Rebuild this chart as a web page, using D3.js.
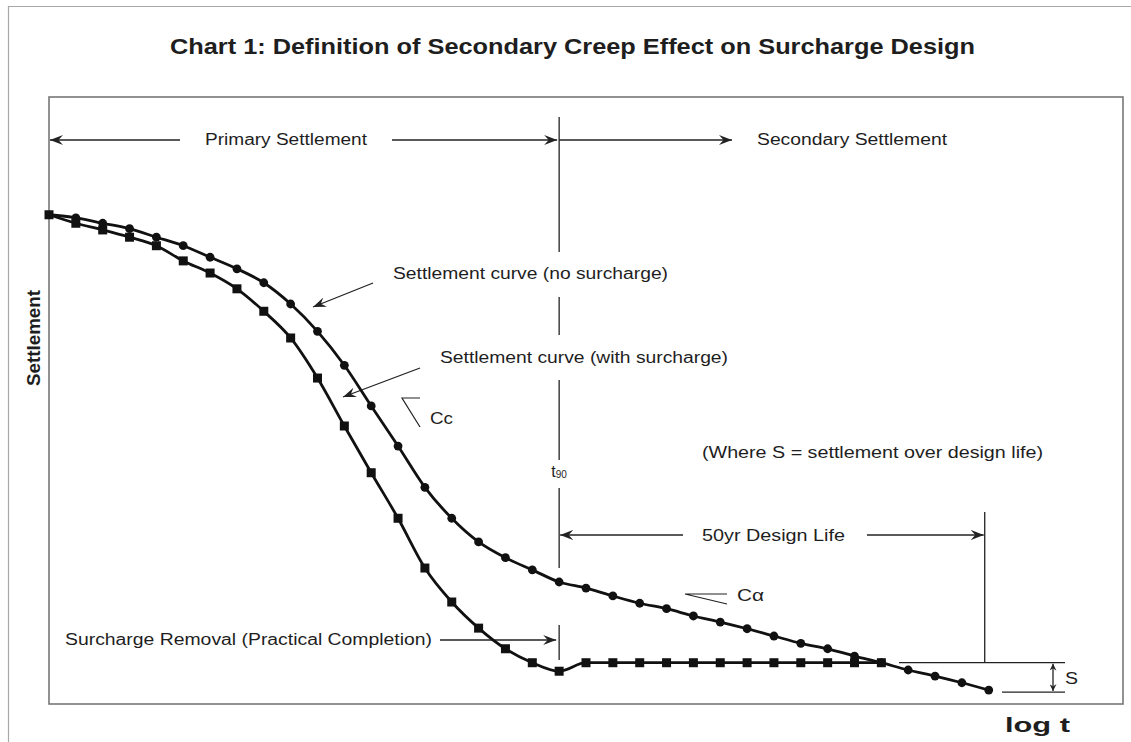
<!DOCTYPE html>
<html>
<head>
<meta charset="utf-8">
<script src="https://cdn.jsdelivr.net/npm/d3@7"></script>
<style>
  body { margin: 0; background: #fff; }
  text { font-family: "Liberation Sans", Arial, sans-serif; fill: #1e1e1e; }
</style>
</head>
<body>
<svg id="chart" width="1131" height="742"></svg>
<script>
// Time steps on a log-time axis (equal spacing = equal log intervals)
const timeSteps = d3.range(0, 36);
// Settlement (% of plot depth) for the curve without surcharge
const noSurcharge = [19.4, 19.9, 20.8, 21.7, 23.1, 24.5, 26.4, 28.3, 30.6, 34.1,
  38.6, 44.2, 50.9, 57.5, 64.3, 69.4, 73.3, 75.9, 77.9, 79.9,
  80.9, 82.2, 83.4, 84.3, 85.5, 86.5, 87.6, 88.8, 90.0, 90.9,
  92.1, 93.2, 94.4, 95.4, 96.5, 97.7];
// Settlement for the curve with surcharge (rebound at removal, then flat)
const withSurcharge = [19.4, 20.8, 21.9, 23.1, 24.5, 27.0, 29.0, 31.6, 35.3, 39.7,
  46.3, 54.2, 61.9, 69.4, 77.6, 83.2, 87.5, 90.9, 93.2, 94.6,
  93.2, 93.2, 93.2, 93.2, 93.2, 93.2, 93.2, 93.2, 93.2, 93.2,
  93.2, 93.2];
const t90Step = 19;          // end of primary consolidation / surcharge removal
const designLifeEnd = 34.85; // end of 50 year design life

const titleText = "Chart 1: Definition of Secondary Creep Effect on Surcharge Design";
const yLabel = "Settlement";
const xLabel = "log t";

const svg = d3.select("#chart");
const plot = { left: 49, top: 97, right: 1123, bottom: 704 };

const x = d3.scaleLinear().domain([0, 40]).range([plot.left, plot.right]);
const y = d3.scaleLinear().domain([0, 100]).range([plot.top, plot.bottom]);

// arrowhead markers
const defs = svg.append("defs");
function addMarker(id, len, half) {
  defs.append("marker")
    .attr("id", id)
    .attr("viewBox", `${-len} ${-half} ${len + 1} ${half * 2}`)
    .attr("markerUnits", "userSpaceOnUse")
    .attr("markerWidth", len + 1).attr("markerHeight", half * 2)
    .attr("refX", 0).attr("refY", 0)
    .attr("orient", "auto-start-reverse")
    .append("path")
    .attr("d", `M0,0 L${-len},${-half} L${-len * 0.65},0 L${-len},${half} Z`)
    .attr("fill", "#222");
}
addMarker("head", 13, 5);
addMarker("headSmall", 7, 3.5);

// outer frame
svg.append("path").attr("d", "M8.5,742 L8.5,6.5 L1131,6.5")
  .attr("fill", "none").attr("stroke", "#a8a8a8").attr("stroke-width", 1.2);

// plot frame
svg.append("rect")
  .attr("x", x(0)).attr("y", y(0))
  .attr("width", x(40) - x(0)).attr("height", y(100) - y(0))
  .attr("fill", "none").attr("stroke", "#777").attr("stroke-width", 1.6);

function label(str, x0, x1, cy, size, weight) {
  return svg.append("text")
    .attr("x", x0).attr("y", cy)
    .attr("dominant-baseline", "central")
    .attr("font-size", size)
    .attr("font-weight", weight || "normal")
    .attr("textLength", x1 - x0)
    .attr("lengthAdjust", "spacingAndGlyphs")
    .text(str);
}
function line(x1, y1, x2, y2, w, endMarker, startMarker) {
  const l = svg.append("line")
    .attr("x1", x1).attr("y1", y1).attr("x2", x2).attr("y2", y2)
    .attr("stroke", "#222").attr("stroke-width", w || 1.3);
  if (endMarker) l.attr("marker-end", `url(#${endMarker})`);
  if (startMarker) l.attr("marker-start", `url(#${startMarker})`);
  return l;
}

// title and axis labels
label(titleText, 170, 975, 46, 22, "bold");
svg.append("text")
  .attr("transform", `translate(33,338) rotate(-90)`)
  .attr("text-anchor", "middle").attr("dominant-baseline", "central")
  .attr("font-size", 19).attr("font-weight", "bold")
  .attr("textLength", 96).attr("lengthAdjust", "spacingAndGlyphs")
  .text(yLabel);
label(xLabel, 1005, 1070, 725, 20, "bold");

// primary / secondary settlement spans
const xT90 = x(t90Step);
line(180, 140, x(0) + 1, 140, 1.3, "head");
label("Primary Settlement", 205, 367, 139, 16);
line(392, 140, xT90 - 2, 140, 1.3, "head");
line(xT90, 140, 732, 140, 1.3, "head");
label("Secondary Settlement", 757, 947, 139, 16);

// t90 vertical, broken around its labels
[[117, 252], [297, 335], [380, 460], [488, 568]].forEach(([a, b]) =>
  line(xT90, a, xT90, b, 1.3));
const t90 = svg.append("text").attr("x", xT90).attr("y", 471)
  .attr("text-anchor", "middle").attr("dominant-baseline", "central")
  .attr("font-size", 16);
t90.append("tspan").text("t");
t90.append("tspan").attr("font-size", 10).attr("dy", 3).text("90");

// curve labels
label("Settlement curve (no surcharge)", 393, 668, 273, 16);
line(373, 283, 313, 307, 1.3, "head");
label("Settlement curve (with surcharge)", 440, 728, 357, 16);
line(420, 368, 343, 397, 1.3, "head");

// Cc slope symbol
svg.append("path").attr("d", "M420,398 L402,398 L420,427")
  .attr("fill", "none").attr("stroke", "#222").attr("stroke-width", 1.2);
label("Cc", 430, 453, 418, 16);

label("(Where S = settlement over design life)", 702, 1043, 452, 16);

// design life span
line(683, 535, xT90 + 1, 535, 1.3, "head");
label("50yr Design Life", 702, 845, 535, 16);
const xLife = x(designLifeEnd);
line(867, 535, xLife - 1, 535, 1.3, "head");
line(xLife, 512, xLife, 662, 1.3);

// C-alpha slope symbol
svg.append("path").attr("d", "M727,594 L685,594 L727,604")
  .attr("fill", "none").attr("stroke", "#222").attr("stroke-width", 1.2);
label("Cα", 737, 764, 595, 16);

// surcharge removal
label("Surcharge Removal (Practical Completion)", 65, 432, 639, 16);
line(440, 640, xT90 - 3, 640, 1.3, "head");
line(xT90, 625, xT90, 660, 1.3);

// S: settlement over design life
const ySflat = y(withSurcharge[withSurcharge.length - 1]);
const ySend = y(noSurcharge[noSurcharge.length - 1]) + 2;
line(899, ySflat, 1065, ySflat, 1.3);
line(1002, ySend, 1065, ySend, 1.3);
line(1053, ySflat + 1, 1053, ySend - 1, 1.3, "headSmall", "headSmall");
label("S", 1065, 1078, 678, 16);

// curves
const lineGen = d3.line()
  .x((d, i) => x(timeSteps[i]))
  .y(d => y(d))
  .curve(d3.curveMonotoneX);

svg.append("path").datum(noSurcharge)
  .attr("d", lineGen)
  .attr("fill", "none").attr("stroke", "#111").attr("stroke-width", 2.8);
svg.append("path").datum(withSurcharge)
  .attr("d", lineGen)
  .attr("fill", "none").attr("stroke", "#111").attr("stroke-width", 2.8);

// markers: circles for no surcharge, squares for with surcharge
svg.append("g").selectAll("circle")
  .data(noSurcharge.slice(1))
  .join("circle")
  .attr("cx", (d, i) => x(timeSteps[i + 1]))
  .attr("cy", d => y(d))
  .attr("r", 4.4)
  .attr("fill", "#111");

const sq = 9;
svg.append("g").selectAll("rect")
  .data(withSurcharge)
  .join("rect")
  .attr("x", (d, i) => x(timeSteps[i]) - sq / 2)
  .attr("y", d => y(d) - sq / 2)
  .attr("width", sq).attr("height", sq)
  .attr("fill", "#111");
</script>
</body>
</html>
